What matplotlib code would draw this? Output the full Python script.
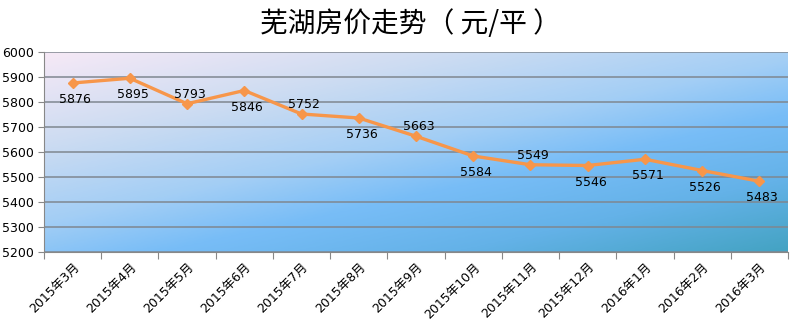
import numpy as np
import matplotlib
matplotlib.use('Agg')
import matplotlib.pyplot as plt
from matplotlib.colors import LinearSegmentedColormap

plt.rcParams['font.family'] = ['DejaVu Sans', 'Noto Sans CJK SC']

months = ['2015年3月', '2015年4月', '2015年5月', '2015年6月', '2015年7月',
          '2015年8月', '2015年9月', '2015年10月', '2015年11月', '2015年12月',
          '2016年1月', '2016年2月', '2016年3月']
prices = [5876, 5895, 5793, 5846, 5752, 5736, 5663, 5584, 5549, 5546, 5571, 5526, 5483]
label_side = ['below', 'below', 'above', 'below', 'above', 'below', 'above',
              'below', 'above', 'below', 'below', 'below', 'below']
y_ticks = list(range(5200, 6001, 100))

fig = plt.figure(figsize=(7.93, 3.22), dpi=100)
ax = fig.add_axes([44/793, 70/322, 744/793, 200/322])

x = np.arange(len(months))
ax.set_xlim(-0.5, len(months) - 0.5)
ax.set_ylim(y_ticks[0], y_ticks[-1])

# diagonal gradient fill behind the plot
u, v = np.meshgrid(np.linspace(0, 1, 300), np.linspace(0, 1, 100))
t = np.clip(0.45 * u + 0.55 * v, 0, 1)
bg = LinearSegmentedColormap.from_list('bg', [
    (0.0, '#f6e9f6'), (0.25, '#cddcf2'), (0.47, '#a3cef5'),
    (0.62, '#78bdf7'), (0.8, '#64b2e8'), (1.0, '#44a3c3')])
ax.imshow(t, cmap=bg, extent=[-0.5, len(months) - 0.5, y_ticks[0], y_ticks[-1]],
          origin='upper', aspect='auto', zorder=0, interpolation='bilinear')

ax.set_yticks(y_ticks)
ax.yaxis.grid(True, color='#7f8790', lw=1.1)
ax.tick_params(axis='y', labelsize=9, length=4, color='#888888', pad=3)

ax.set_xticks(np.arange(-0.5, len(months), 1))
ax.set_xticklabels([])
ax.tick_params(axis='x', which='major', length=5, color='#888888')
ax.set_xticks(x, minor=True)
ax.set_xticklabels(months, minor=True, rotation=45, ha='right', rotation_mode='anchor', fontsize=9)
ax.tick_params(axis='x', which='minor', length=0, pad=6)

for s in ['top', 'right']:
    ax.spines[s].set_visible(False)
for s in ['left', 'bottom']:
    ax.spines[s].set_color('#888888')

ax.plot(x, prices, color='#f7964a', lw=2.4, marker='D', ms=5.5, zorder=3)

for xi, p, side in zip(x, prices, label_side):
    dy = -12 if side == 'below' else 7
    ax.annotate(str(p), (xi, p), xytext=(2, dy), textcoords='offset points',
                ha='center', va='center', fontsize=9, zorder=4)

fig.text(0.518, 1 - 24/322, '芜湖房价走势（ 元/平 ）', fontsize=20,
         family='Noto Sans CJK SC', ha='center', va='center')

fig.savefig('out.png', dpi=100)
